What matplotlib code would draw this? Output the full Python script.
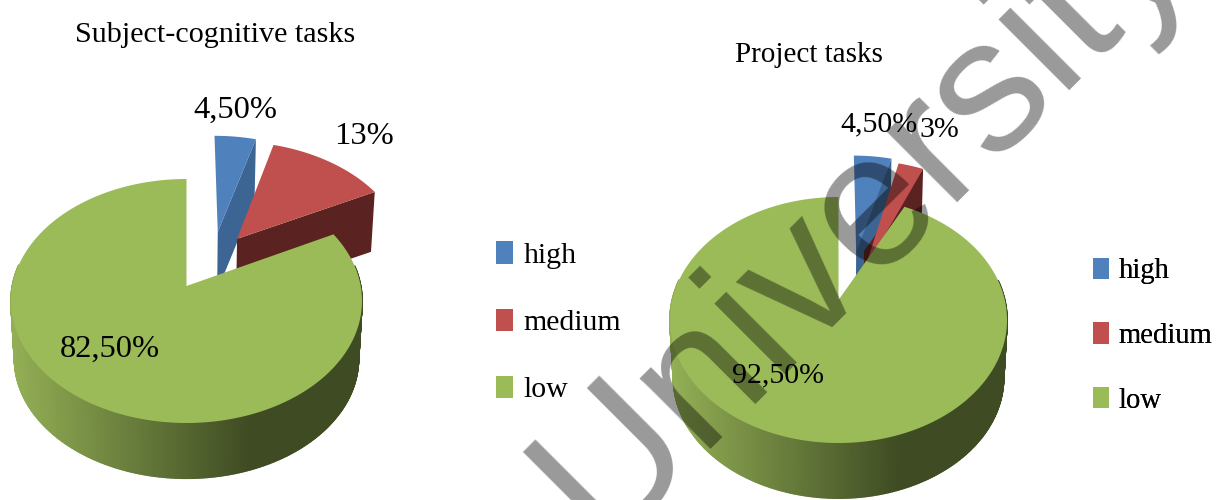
import numpy as np
import matplotlib
matplotlib.use("Agg")
import matplotlib.pyplot as plt
from matplotlib.collections import PolyCollection
from matplotlib.colors import to_rgb
from matplotlib.patches import Patch

plt.rcParams['font.family'] = ['Liberation Serif', 'DejaVu Serif']

# values (percent)
levels = ["high", "medium", "low"]
subject_values = [4.5, 13, 82.5]
subject_labels = ["4,50%", "13%", "82,50%"]
project_values = [4.5, 3, 92.5]
project_labels = ["4,50%", "3%", "92,50%"]

face_colors = ['#4F81BD', '#C0504D', '#9BBB59']
side_colors = ['#3D6594', '#5A2322', '#3F4C23']


def project(geo, x, y):
    # circle coords -> screen, far side of the pie is squeezed a bit
    d = 1 + geo['k'] * y
    return geo['a'] * x / d, geo['b'] * y / d


def outline(geo, t0, t1, ex, ey, drop=0.0, n=80):
    t = np.radians(np.linspace(t0, t1, n))
    px = np.concatenate([[ex], ex + np.sin(t)])
    py = np.concatenate([[ey], ey + np.cos(t)])
    sx, sy = project(geo, px, py)
    scale = 0.98 if drop else 1.0
    return np.column_stack([geo['cx'] + sx * scale, geo['cy'] - sy * scale + drop])


def draw_pie(ax, values, geo):
    angles = np.cumsum([0] + list(values)) * 3.6
    # blue and red are pulled out, green is drawn last and covers their sides
    for i in range(2):
        t0, t1 = angles[i], angles[i + 1]
        ex, ey = geo['explode'][i]
        top = outline(geo, t0, t1, ex, ey)
        low = outline(geo, t0, t1, ex, ey, drop=geo['depth'])
        # cut face on the right of the slice
        ax.fill([top[0, 0], top[-1, 0], low[-1, 0], low[0, 0]],
                [top[0, 1], top[-1, 1], low[-1, 1], low[0, 1]],
                color=side_colors[i], lw=0, zorder=2 + i)
        # the tip of the lit face runs lower on the thin slices
        top[0, 1] += geo['tip_drop'][i]
        ax.fill(top[:, 0], top[:, 1], color=face_colors[i], lw=0, zorder=2 + i)

    # green side with the left-to-right shading
    t0, t1 = angles[2], angles[3]
    rim = np.linspace(t0, t1, 500)
    top = outline(geo, t0, t1, 0, 0, n=500)[1:]
    low = outline(geo, t0, t1, 0, 0, drop=geo['depth'], n=500)[1:]
    quads, cols = [], []
    light = np.array(to_rgb('#93AF55'))
    dark = np.array(to_rgb('#3F4C23'))
    for j in range(len(rim) - 1):
        if top[j, 1] < geo['cy'] - 20:
            continue
        quads.append([top[j], top[j + 1], low[j + 1], low[j]])
        f = (top[j, 0] - (geo['cx'] - geo['rx'])) / (2 * geo['rx'])
        f = min(f / 0.68, 1)
        cols.append(light + (dark - light) * f)
    ax.add_collection(PolyCollection(quads, facecolors=cols, edgecolors=cols, lw=1.2, zorder=4))
    face = outline(geo, t0, t1, 0, 0, n=300)
    ax.fill(face[:, 0], face[:, 1], color=face_colors[2], lw=0, zorder=5)


def make_geo(left, right, top, bottom, apex_y, depth, explode, tip_drop):
    upper = apex_y - top
    lower = bottom - apex_y
    k = (lower - upper) / (lower + upper)
    rx = (right - left) / 2
    return dict(cx=(left + right) / 2, cy=apex_y, rx=rx, k=k,
                a=rx * np.sqrt(1 - k ** 2), b=upper * (1 + k),
                depth=depth, explode=explode, tip_drop=tip_drop)


fig = plt.figure(figsize=(12.23, 5.0), dpi=100)
ax = fig.add_axes([0, 0, 1, 1])
ax.set_xlim(0, 1223)
ax.set_ylim(500, 0)
ax.axis('off')

left_geo = make_geo(11, 362, 179, 423, 286, 58, [(0.19, 0.477), (0.305, 0.412)], (0, 0))
right_geo = make_geo(670, 1007, 197, 443, 300, 58, [(0.115, 0.50), (0.165, 0.44)], (8, 20))
draw_pie(ax, subject_values, left_geo)
draw_pie(ax, project_values, right_geo)

label_pt = 23.4
ax.text(215, 35, "Subject-cognitive tasks", fontsize=21.7, ha='center', va='center', zorder=8)
ax.text(809, 55, "Project tasks", fontsize=21, ha='center', va='center', zorder=8)

ax.text(235, 110, subject_labels[0], fontsize=label_pt, ha='center', va='center', zorder=8)
ax.text(364, 137, subject_labels[1], fontsize=label_pt, ha='center', va='center', zorder=8)
ax.text(110, 349, subject_labels[2], fontsize=label_pt, ha='center', va='center', zorder=8)
ax.text(879, 124, project_labels[0], fontsize=21.5, ha='center', va='center', zorder=8)
ax.text(939, 130, project_labels[1], fontsize=21.5, ha='center', va='center', zorder=8)
ax.text(778, 375, project_labels[2], fontsize=21.5, ha='center', va='center', zorder=8)

handles = [Patch(facecolor=c, edgecolor='none') for c in face_colors]
for anchor, size in [((487, 232.5), 21.5), ((1084, 249), 20.6)]:
    leg = ax.legend(handles, levels, loc='upper left', bbox_to_anchor=anchor,
                    bbox_transform=ax.transData, frameon=False, fontsize=size,
                    handlelength=0.57, handleheight=0.77, handletextpad=0.35,
                    labelspacing=1.33, borderpad=0.3, borderaxespad=0)
    leg.set_zorder(8)
    ax.add_artist(leg)

# watermark across the whole picture
ax.text(601, 544, "University", family=['Liberation Sans'], fontsize=137, color='black',
        alpha=0.4, rotation=45, rotation_mode='anchor', ha='left', va='baseline',
        zorder=10, clip_on=True)

fig.savefig("out.png", dpi=100)
